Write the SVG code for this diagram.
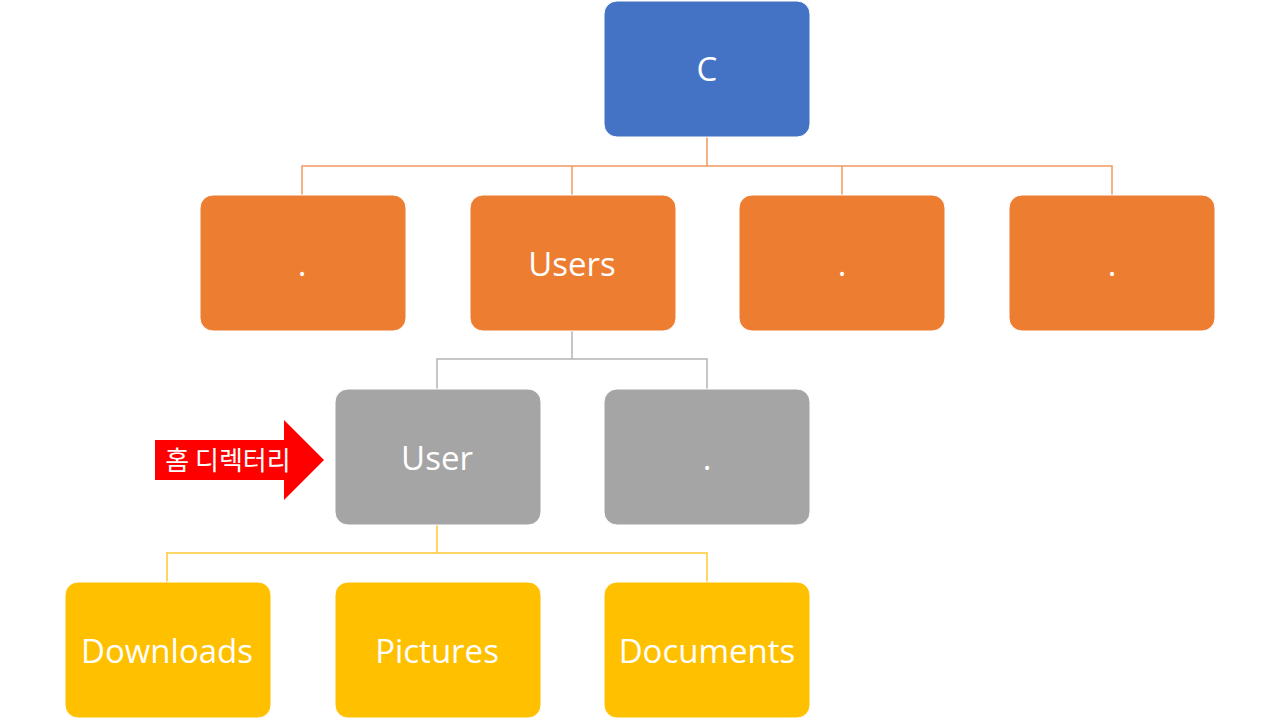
<svg xmlns="http://www.w3.org/2000/svg" width="1280" height="720" viewBox="0 0 1280 720">
<style>
.n{stroke:#ffffff;stroke-width:1}
.t{font-family:"Open Sans","Noto Sans",sans-serif;font-size:33px;fill:#ffffff;text-anchor:middle}
.blue{fill:#4472C4}.orange{fill:#ED7D31}.gray{fill:#A5A5A5}.yellow{fill:#FFC000}
.c{fill:none;stroke-width:1.5}
</style>
<rect width="1280" height="720" fill="#ffffff"/>
<g id="connectors">
<path class="c" stroke="#F29A5E" d="M707,137 V166 M302,195 V166 H1112 V195 M572,166 V195 M842,166 V195"/>
<path class="c" stroke="#B4B4B4" d="M572,331 V359 M437,389 V359 H707 V389"/>
<path class="c" stroke="#FFC933" d="M437,524 V553 M167,582 V553 H707 V582"/>
</g>
<g id="node-c"><rect class="n blue" x="604" y="1" width="206" height="136" rx="13"/><text class="t" x="707" y="81">C</text></g>
<g id="node-o1"><rect class="n orange" x="200" y="195" width="206" height="136" rx="13"/><text class="t" x="302" y="276">.</text></g>
<g id="node-users"><rect class="n orange" x="470" y="195" width="206" height="136" rx="13"/><text class="t" x="572" y="276">Users</text></g>
<g id="node-o3"><rect class="n orange" x="739" y="195" width="206" height="136" rx="13"/><text class="t" x="842" y="276">.</text></g>
<g id="node-o4"><rect class="n orange" x="1009" y="195" width="206" height="136" rx="13"/><text class="t" x="1112" y="276">.</text></g>
<g id="node-user"><rect class="n gray" x="335" y="389" width="206" height="136" rx="13"/><text class="t" x="437" y="470">User</text></g>
<g id="node-g2"><rect class="n gray" x="604" y="389" width="206" height="136" rx="13"/><text class="t" x="707" y="470">.</text></g>
<g id="node-downloads"><rect class="n yellow" x="65" y="582" width="206" height="136" rx="13"/><text class="t" x="167" y="663">Downloads</text></g>
<g id="node-pictures"><rect class="n yellow" x="335" y="582" width="206" height="136" rx="13"/><text class="t" x="437" y="663">Pictures</text></g>
<g id="node-documents"><rect class="n yellow" x="604" y="582" width="206" height="136" rx="13"/><text class="t" x="707" y="663">Documents</text></g>
<g id="home-arrow">
<polygon points="155,440 284,440 284,420 324,460 284,500 284,480 155,480" fill="#FF0000"/>
<text x="228" y="470" font-family="'Noto Sans CJK KR',sans-serif" font-size="26" fill="#ffffff" text-anchor="middle">홈 디렉터리</text>
</g>
</svg>
